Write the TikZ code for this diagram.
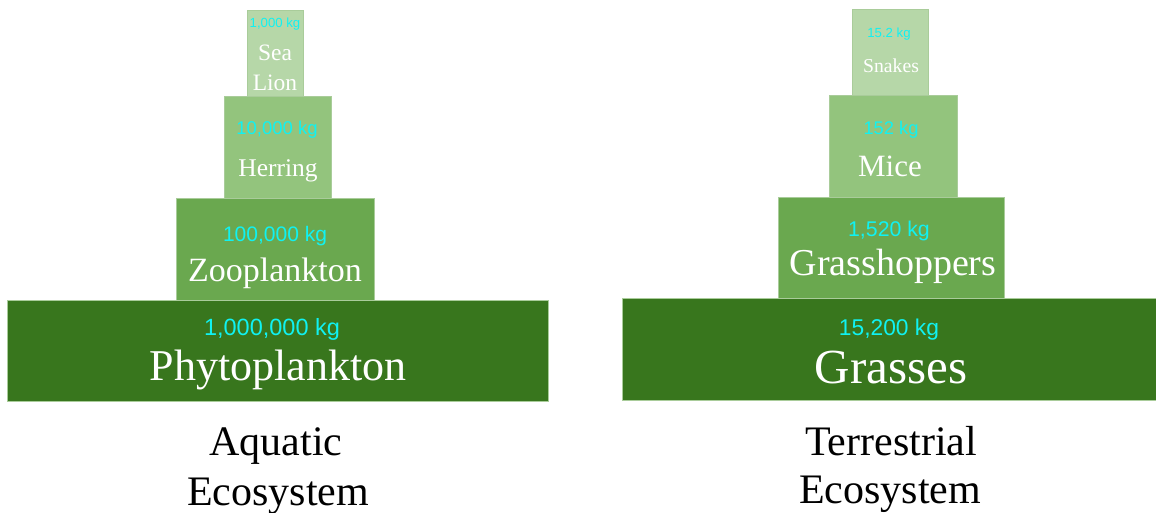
\documentclass[tikz,border=0pt]{standalone}
\usepackage{fontspec}
\setmainfont{Liberation Serif}
\newfontfamily\kgfont{Liberation Sans}
\usepackage{xcolor}
\usetikzlibrary{positioning}

\definecolor{tierone}{HTML}{38761D}
\definecolor{tiertwo}{HTML}{6AA84F}
\definecolor{tierthree}{HTML}{93C47D}
\definecolor{tierfour}{HTML}{B6D7A8}
\definecolor{tieredge}{HTML}{A9CC9A}
\definecolor{kgcyan}{HTML}{10F2F2}

\begin{document}
\begin{tikzpicture}[x=1pt, y=-1pt,
  tier/.style={draw=tieredge, line width=0.8pt, rectangle, inner sep=0pt, outer sep=0pt},
  kg/.style={anchor=base, inner sep=0pt, text=kgcyan},
  organism/.style={anchor=base, inner sep=0pt, text=white},
  caption/.style={anchor=base, inner sep=0pt, text=black, font=\fontsize{42}{49}\selectfont}]
\useasboundingbox (0,0) rectangle (1156,513);

% aquatic pyramid
\node (phyto) [tier, fill=tierone, minimum width=541pt, minimum height=101pt] at (277.5,350.5) {};
\node (zoo) [tier, fill=tiertwo, minimum width=198pt, minimum height=102pt, above=0pt of phyto, xshift=-2.5pt] {};
\node (herring) [tier, fill=tierthree, minimum width=107pt, minimum height=102pt, above=0pt of zoo, xshift=2.5pt] {};
\node (sealion) [tier, fill=tierfour, minimum width=56pt, minimum height=86pt, above=0pt of herring, xshift=-2.5pt] {};

\node (phytokg) [kg, font=\kgfont\fontsize{23.5}{26}\selectfont] at (272,335) {1,000,000 kg};
\node (phytoname) [organism, font=\fontsize{44}{50}\selectfont] at (278,380) {Phytoplankton};
\node (zookg) [kg, font=\kgfont\fontsize{21}{24}\selectfont] at (275,241.5) {100,000 kg};
\node (zooname) [organism, font=\fontsize{34}{40}\selectfont] at (275,281.5) {Zooplankton};
\node (herringkg) [kg, font=\kgfont\fontsize{18.5}{21}\selectfont] at (277,135) {10,000 kg};
\node (herringname) [organism, font=\fontsize{25.5}{30}\selectfont] at (278,176.5) {Herring};
\node (sealionkg) [kg, font=\kgfont\fontsize{13.2}{15}\selectfont] at (275,28) {1,000 kg};
\node (seaname) [organism, font=\fontsize{23.5}{28}\selectfont] at (275,60.5) {Sea};
\node (lionname) [organism, font=\fontsize{23.5}{28}\selectfont] at (275,90.5) {Lion};

% terrestrial pyramid
\node (grasses) [tier, fill=tierone, minimum width=540pt, minimum height=102pt] at (892,349) {};
\node (hoppers) [tier, fill=tiertwo, minimum width=226pt, minimum height=101pt, above=0pt of grasses, xshift=-1pt] {};
\node (mice) [tier, fill=tierthree, minimum width=128pt, minimum height=102pt, above=0pt of hoppers, xshift=2pt] {};
\node (snakes) [tier, fill=tierfour, minimum width=76pt, minimum height=86pt, above=0pt of mice, xshift=-3pt] {};

\node (grasseskg) [kg, font=\kgfont\fontsize{22.8}{26}\selectfont] at (889,335) {15,200 kg};
\node (grassesname) [organism, font=\fontsize{49}{55}\selectfont] at (891,383) {Grasses};
\node (hopperskg) [kg, font=\kgfont\fontsize{21.3}{24}\selectfont] at (889,236.5) {1,520 kg};
\node (hoppersname) [organism, font=\fontsize{38}{44}\selectfont] at (893,275) {Grasshoppers};
\node (micekg) [kg, font=\kgfont\fontsize{18.3}{21}\selectfont] at (891,135) {152 kg};
\node (micename) [organism, font=\fontsize{31}{36}\selectfont] at (890,176.5) {Mice};
\node (snakeskg) [kg, font=\kgfont\fontsize{13.2}{15}\selectfont] at (889,38) {15.2 kg};
\node (snakesname) [organism, font=\fontsize{19.7}{23}\selectfont] at (891,73) {Snakes};

% captions
\node (aquatic) [caption] at (276,455.5) {Aquatic};
\node (aquaticeco) [caption] at (278,505) {Ecosystem};
\node (terrestrial) [caption] at (891,455) {Terrestrial};
\node (terrestrialeco) [caption] at (890,503) {Ecosystem};
\end{tikzpicture}
\end{document}
